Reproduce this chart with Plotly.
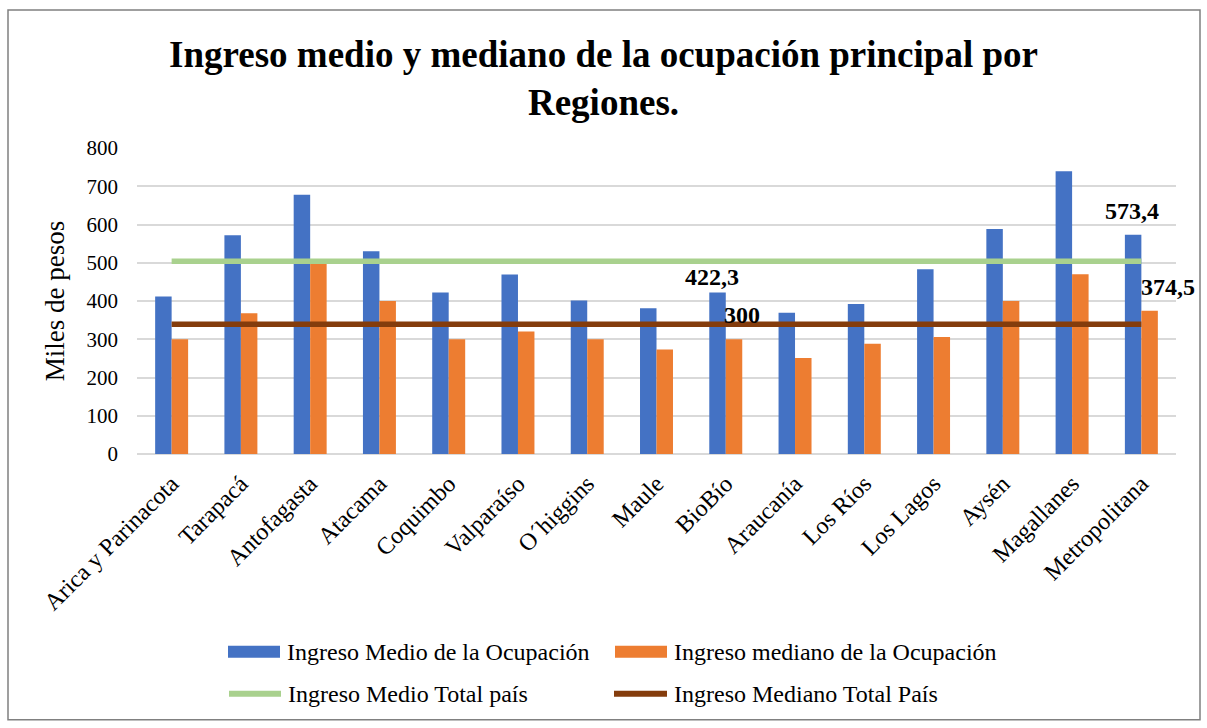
import plotly.graph_objects as go

regiones = ["Arica y Parinacota", "Tarapacá", "Antofagasta", "Atacama", "Coquimbo",
            "Valparaíso", "O´higgins", "Maule", "BioBío", "Araucanía", "Los Ríos",
            "Los Lagos", "Aysén", "Magallanes", "Metropolitana"]
ingreso_medio = [412, 572, 678, 530, 422, 469, 401, 381, 422.3, 369, 392, 483, 588, 739, 573.4]
ingreso_mediano = [300, 368, 498, 400, 300, 320, 300, 273, 300, 251, 288, 306, 400, 470, 374.5]
medio_total_pais = [504] * len(regiones)
mediano_total_pais = [339] * len(regiones)
series_names = ["Ingreso Medio de la Ocupación", "Ingreso mediano de la Ocupación",
                "Ingreso Medio Total país", "Ingreso Mediano Total País"]

FONT = "Liberation Serif"
BLUE = "#4472c4"
ORANGE = "#ed7d31"
GREEN = "#a9d18e"
BROWN = "#843c0c"

W, H = 1207, 728
ML, MR, MT, MB = 137, 31, 147.5, 273.5
PW, PH = W - ML - MR, H - MT - MB

def px(x):
    return (x - ML) / PW

def py(y):
    return (H - MB - y) / PH

fig = go.Figure()
fig.add_trace(go.Bar(x=regiones, y=ingreso_medio, name=series_names[0],
                     marker=dict(color=BLUE, line=dict(width=0))))
fig.add_trace(go.Bar(x=regiones, y=ingreso_mediano, name=series_names[1],
                     marker=dict(color=ORANGE, line=dict(width=0))))
fig.add_trace(go.Scatter(x=regiones, y=medio_total_pais, mode="lines", name=series_names[2],
                         line=dict(color=GREEN, width=5.5)))
fig.add_trace(go.Scatter(x=regiones, y=mediano_total_pais, mode="lines", name=series_names[3],
                         line=dict(color=BROWN, width=5.5)))

def fmt(v):
    s = ("%.1f" % v).replace(".", ",")
    return s[:-2] if s.endswith(",0") else s

labels = [
    (8, ingreso_medio[8], -14, 15),
    (8, ingreso_mediano[8], 16, 24),
    (14, ingreso_medio[14], -9, 24),
    (14, ingreso_mediano[14], 27, 24),
]
for idx, val, xs, ys in labels:
    fig.add_annotation(x=regiones[idx], y=val, text="<b>%s</b>" % fmt(val), showarrow=False,
                       xshift=xs, yshift=ys, yanchor="middle",
                       font=dict(family=FONT, size=24, color="black"))

# outer chart border
fig.add_shape(type="rect", xref="paper", yref="paper", x0=px(8), x1=px(1200), y0=py(721), y1=py(9),
              line=dict(color="#808080", width=1.5), fillcolor="rgba(0,0,0,0)", layer="below")

# legend drawn to match the original layout (2 x 2 grid)
legend_items = [
    (series_names[0], "rect", BLUE, 228, 280, 653),
    (series_names[1], "rect", ORANGE, 615, 667, 653),
    (series_names[2], "line", GREEN, 229, 281, 695),
    (series_names[3], "line", BROWN, 614, 667, 695),
]
for name, kind, color, x0, x1, yc in legend_items:
    if kind == "rect":
        fig.add_shape(type="rect", xref="paper", yref="paper", x0=px(x0), x1=px(x1),
                      y0=py(yc + 6), y1=py(yc - 6), line=dict(width=0), fillcolor=color)
    else:
        fig.add_shape(type="line", xref="paper", yref="paper", x0=px(x0), x1=px(x1),
                      y0=py(yc), y1=py(yc), line=dict(color=color, width=6))
    fig.add_annotation(xref="paper", yref="paper", x=px(x1 + 5), y=py(yc), text=name,
                       showarrow=False, xanchor="left", yanchor="middle",
                       font=dict(family=FONT, size=24, color="black"))

fig.update_layout(
    width=W, height=H,
    margin=dict(l=ML, r=MR, t=MT, b=MB, autoexpand=False),
    paper_bgcolor="white", plot_bgcolor="white",
    barmode="group", bargap=0.524, bargroupgap=0,
    showlegend=False,
    title=dict(text="<b>Ingreso medio y mediano de la ocupación principal por<br>Regiones.</b>",
               x=0.5, xanchor="center", y=1 - 67 / H, yanchor="middle", yref="container",
               font=dict(family=FONT, size=37, color="black")),
    font=dict(family=FONT, size=21, color="black"),
    xaxis=dict(tickangle=-45, tickfont=dict(family=FONT, size=24, color="black"),
               range=[-0.5, len(regiones) - 0.5], autorange=False,
               showgrid=False, showline=False, ticks="", ticklabelstandoff=10),
    yaxis=dict(range=[0, 800], dtick=100, showgrid=True, gridcolor="#d9d9d9", gridwidth=1.5,
               zeroline=True, zerolinecolor="#d9d9d9", zerolinewidth=1.5,
               tickfont=dict(family=FONT, size=21, color="black"), ticklabelstandoff=18,
               title=dict(text="Miles de pesos", font=dict(family=FONT, size=27, color="black"),
                          standoff=14)),
)

fig.write_html("out.html", config={"displayModeBar": False},
               post_script="document.body.style.margin='0';")
